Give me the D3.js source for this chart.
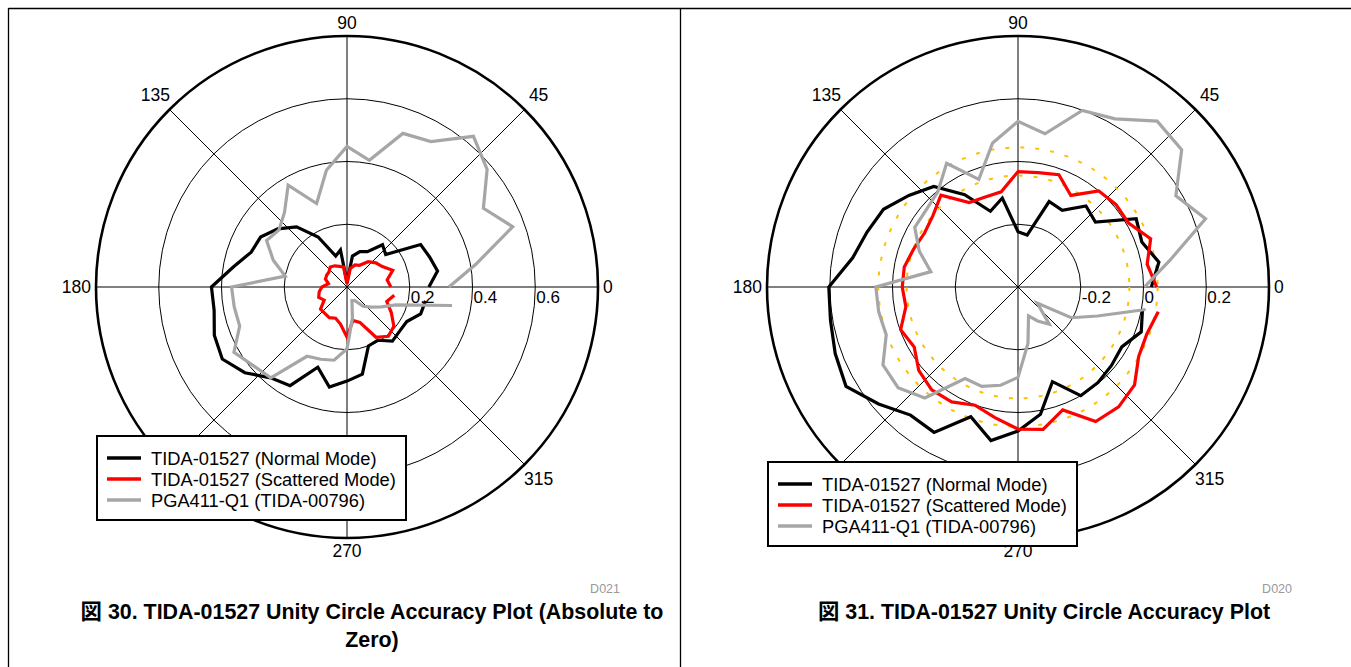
<!DOCTYPE html>
<html><head><meta charset="utf-8">
<script src="https://cdn.jsdelivr.net/npm/d3@7"></script>
<style>
body{margin:0;background:#fff}
svg{display:block}
text{font-family:"Liberation Sans",Arial,"Noto Sans CJK JP",sans-serif}
</style>
</head><body>
<svg id="chart" width="1351" height="667"></svg>
<script>
// ---------- data ----------
const angles = [0,10,20,30,40,50,60,70,80,90,100,110,120,130,140,150,160,170,
                180,190,200,210,220,230,240,250,260,270,280,290,300,310,320,330,340,350];

const seriesNames = ["TIDA-01527 (Normal Mode)", "TIDA-01527 (Scattered Mode)", "PGA411-Q1 (TIDA-00796)"];
const seriesColors = ["#000000", "#ff0000", "#a6a6a6"];

// Fig 30: absolute to zero
const absNormal = [0.261,0.293,0.280,0.271,0.161,0.176,0.130,0.120,0.100,0.015,0.120,0.105,
                   0.184,0.250,0.288,0.318,0.325,0.368,0.432,0.430,0.450,0.459,0.425,0.378,
                   0.363,0.272,0.324,0.300,0.282,0.200,0.196,0.225,0.219,0.220,0.250,0.254];
const absScatter = [0.140,0.130,0.155,0.130,0.120,0.105,0.080,0.075,0.060,0.010,0.065,0.070,
                    0.078,0.083,0.075,0.075,0.073,0.060,0.080,0.090,0.096,0.084,0.110,0.110,
                    0.113,0.106,0.120,0.160,0.108,0.120,0.185,0.205,0.195,0.163,0.135,0.153];
const absPGA = [0.325,0.417,0.562,0.502,0.583,0.627,0.535,0.521,0.410,0.448,0.378,0.283,
                0.375,0.310,0.283,0.296,0.250,0.200,0.368,0.365,0.364,0.416,0.390,0.378,
                0.255,0.245,0.237,0.197,0.100,0.046,0.050,0.080,0.100,0.127,0.166,0.340];

// Fig 31: unity circle accuracy
const accNormal = [0.025,0.056,0.020,0.035,-0.078,-0.063,-0.118,-0.110,-0.232,-0.224,-0.112,-0.143,
                   -0.060,0.018,0.054,0.095,0.112,0.135,0.203,0.207,0.220,0.233,0.180,0.133,
                   0.135,0.040,0.097,0.059,0.012,-0.079,0.000,-0.003,-0.011,-0.018,0.018,0.003];
const accScatter = [0.042,0.018,0.050,0.007,0.008,0.000,-0.063,-0.019,-0.030,-0.032,-0.092,-0.095,
                    -0.089,-0.018,-0.046,-0.056,-0.046,-0.032,-0.031,-0.037,-0.002,-0.018,0.013,0.028,
                    0.023,0.001,0.023,0.053,0.061,0.017,0.095,0.099,0.085,0.044,0.037,0.054];
const accPGA = [0.003,0.092,0.236,0.181,0.281,0.290,0.219,0.199,0.096,0.128,0.066,-0.035,
                0.055,-0.003,-0.018,-0.020,-0.065,-0.118,0.053,0.051,0.047,0.097,0.099,0.062,
                -0.063,-0.063,-0.082,-0.112,-0.217,-0.302,-0.275,-0.245,-0.320,-0.204,-0.130,0.013];

const angleTicks = [0,45,90,135,180,225,270,315];
const angleLabels = ["0","45","90","135","180","","270","315"]; // 225 is hidden under the legend
const absRingTicks = [0.2,0.4,0.6];
const absRingLabels = ["0.2","0.4","0.6"];
const accRingTicks = [-0.2,0,0.2];
const accRingLabels = ["-0.2","0","0.2"];
const absDomain = [0,0.8];
const accDomain = [-0.4,0.4];
const accUnityBand = [-0.045,0.045];

const captions = [
  ["図 30. TIDA-01527 Unity Circle Accuracy Plot (Absolute to", "Zero)"],
  ["図 31. TIDA-01527 Unity Circle Accuracy Plot"]
];
const figIds = ["D021","D020"];

// ---------- drawing ----------
const svg = d3.select("#chart");
const R = 251;

// frame
svg.append("line").attr("x1",8.5).attr("x2",1351).attr("y1",8.5).attr("y2",8.5).attr("stroke","#000").attr("stroke-width",1.3);
svg.append("line").attr("x1",8.5).attr("x2",8.5).attr("y1",8).attr("y2",667).attr("stroke","#000").attr("stroke-width",1.3);
svg.append("line").attr("x1",680.5).attr("x2",680.5).attr("y1",8).attr("y2",667).attr("stroke","#000").attr("stroke-width",1.3);

function drawPolar(cfg){
  const g = svg.append("g").attr("transform",`translate(${cfg.cx},${cfg.cy})`);
  const r = d3.scaleLinear().domain(cfg.domain).range([0,R]);
  // rings
  g.selectAll("circle.ring").data(cfg.rings).join("circle")
    .attr("r", d=>r(d)).attr("fill","none").attr("stroke","#000").attr("stroke-width",1);
  // spokes
  g.selectAll("line.spoke").data(angleTicks).join("line")
    .attr("x1",0).attr("y1",0)
    .attr("x2",d=>R*Math.cos(d*Math.PI/180)).attr("y2",d=>-R*Math.sin(d*Math.PI/180))
    .attr("stroke","#000").attr("stroke-width",1);
  // outer
  g.append("circle").attr("r",R).attr("fill","none").attr("stroke","#000").attr("stroke-width",2.6);
  // unity band
  if(cfg.band){
    g.selectAll("circle.band").data(cfg.band).join("circle")
      .attr("r",d=>r(d)).attr("fill","none").attr("stroke","#ffc000").attr("stroke-width",2)
      .attr("stroke-dasharray","4,11");
  }
  // ring labels
  g.selectAll("text.rl").data(cfg.rings).join("text")
    .attr("x",d=>r(d)+1).attr("y",15.5).attr("font-size",17).attr("fill","#000")
    .text((d,i)=>cfg.ringLabels[i]);
  // angle labels
  const labs = angleTicks.map((a,i)=>({a, t:angleLabels[i]})).filter(d=>d.t!=="");
  g.selectAll("text.al").data(labs).join("text")
    .attr("x",d=>{
      if(d.a===0) return R+5; if(d.a===180) return -R-5;
      const rr = (d.a%90===0)?264:271;
      return rr*Math.cos(d.a*Math.PI/180);})
    .attr("y",d=>{
      const rr = (d.a%90===0)?264:271;
      return -rr*Math.sin(d.a*Math.PI/180);})
    .attr("text-anchor",d=>d.a===0?"start":(d.a===180?"end":"middle"))
    .attr("dominant-baseline","central")
    .attr("font-size",17.5).text(d=>d.t);
  // series
  const line = d3.lineRadial()
    .angle((d,i)=>(90-angles[i])*Math.PI/180)
    .radius(d=>r(d));
  cfg.series.forEach((s,i)=>{
    g.append("path").datum(s).attr("d",line).attr("fill","none")
      .attr("stroke",seriesColors[i]).attr("stroke-width",3.2).attr("stroke-linejoin","miter");
  });
  // legend
  const lg = svg.append("g").attr("transform",`translate(${cfg.lx},${cfg.ly})`);
  lg.append("rect").attr("x",0).attr("y",0).attr("width",309).attr("height",84)
    .attr("fill","#fff").attr("stroke","#000").attr("stroke-width",2);
  seriesNames.forEach((n,i)=>{
    const y = 22 + i*21;
    lg.append("line").attr("x1",10).attr("x2",44).attr("y1",y).attr("y2",y)
      .attr("stroke",seriesColors[i]).attr("stroke-width",3.5);
    lg.append("text").attr("x",54).attr("y",y).attr("dominant-baseline","central")
      .attr("font-size",18.3).text(n);
  });
  // figure id
  svg.append("text").attr("x",cfg.idx).attr("y",593).attr("text-anchor","end")
    .attr("font-size",12.5).attr("fill","#999").text(cfg.id);
  // caption
  cfg.caption.forEach((t,i)=>{
    svg.append("text").attr("x",cfg.capx).attr("y",619+i*28).attr("text-anchor","middle")
      .attr("font-size",21.4).attr("font-weight","bold").text(t);
  });
}

drawPolar({cx:347, cy:287, domain:absDomain, rings:absRingTicks, ringLabels:absRingLabels, band:null,
  series:[absNormal,absScatter,absPGA], lx:97, ly:436, id:figIds[0], idx:620,
  caption:captions[0], capx:372});
drawPolar({cx:1018, cy:287, domain:accDomain, rings:accRingTicks, ringLabels:accRingLabels, band:accUnityBand,
  series:[accNormal,accScatter,accPGA], lx:768, ly:462, id:figIds[1], idx:1292,
  caption:captions[1], capx:1044});
</script>
</body></html>
